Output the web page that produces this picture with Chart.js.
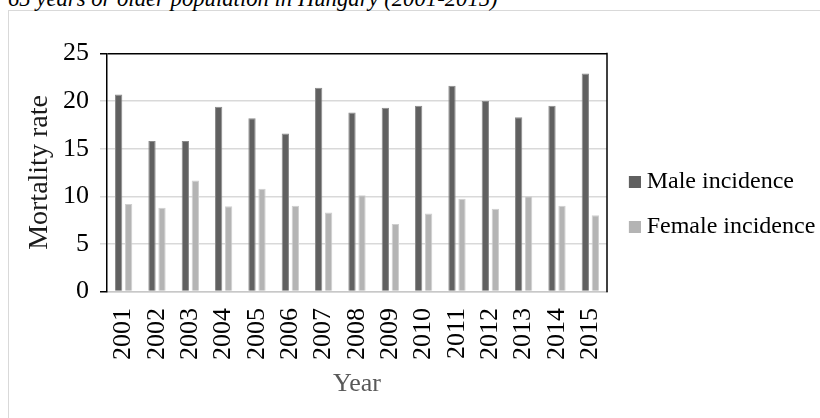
<!DOCTYPE html>
<html>
<head>
<meta charset="utf-8">
<script src="https://cdn.jsdelivr.net/npm/chart.js@4/dist/chart.umd.min.js"></script>
<style>
  html, body { margin: 0; padding: 0; background: #ffffff; width: 820px; height: 418px; overflow: hidden; position: relative; }
  #frame { position: absolute; left: 8px; top: 10px; width: 900px; height: 500px;
           border: 1.5px solid #d9d9d9; box-sizing: border-box; }
  #title { position: absolute; left: 8px; top: -13.5px; margin: 0; white-space: nowrap;
           font: italic 22.7px/23px "Liberation Serif", serif; color: #000000; }
  #chart { position: absolute; left: 0; top: 0; width: 820px; height: 418px; }
</style>
</head>
<body>
<div id="frame"></div>
<p id="title"></p>
<canvas id="chart" width="820" height="418"></canvas>
<script>
// Mortality rate per year, 65 years or older, Hungary
const years = ['2001','2002','2003','2004','2005','2006','2007','2008','2009','2010','2011','2012','2013','2014','2015'];
const maleIncidence   = [20.7, 15.8, 15.8, 19.4, 18.2, 16.6, 21.4, 18.8, 19.3, 19.5, 21.6, 20.0, 18.3, 19.5, 22.9];
const femaleIncidence = [9.2, 8.8, 11.65, 8.95, 10.8, 9.0, 8.3, 10.1, 7.1, 8.2, 9.75, 8.7, 10.0, 9.0, 8.0];
const seriesNames = ['Male incidence', 'Female incidence'];
const seriesColors = ['#606060', '#b4b4b4'];
const seriesEdges = ['#8a8a8a', '#cfcfcf'];
const yMin = 0, yMax = 25, yStep = 5;
const chartTitle = '65 years or older population in Hungary (2001-2015)';
const xTitle = 'Year';
const yTitle = 'Mortality rate';

document.getElementById('title').textContent = chartTitle;

const serif = 'Liberation Serif';
Chart.defaults.font.family = serif;

// legend swatches: 12px square on the right of a transparent strip
function swatch(color) {
  const c = document.createElement('canvas');
  c.width = 19; c.height = 12;
  const g = c.getContext('2d');
  g.fillStyle = color;
  g.fillRect(7, 0, 12, 12);
  return c;
}
const swatches = seriesColors.map(swatch);

// closes the plot box on the right-hand side
const plotFrame = {
  id: 'plotFrame',
  afterDatasetsDraw(chart) {
    const { ctx, chartArea: a } = chart;
    ctx.save();
    ctx.strokeStyle = '#000000';
    ctx.lineWidth = 1.5;
    ctx.beginPath();
    ctx.moveTo(a.right, a.top - 0.75);
    ctx.lineTo(a.right, a.bottom + 0.75);
    ctx.stroke();
    ctx.restore();
  }
};

new Chart(document.getElementById('chart'), {
  type: 'bar',
  data: {
    labels: years,
    datasets: [
      { label: seriesNames[0], data: maleIncidence, backgroundColor: seriesColors[0],
        borderColor: seriesEdges[0], borderWidth: 1, barPercentage: 0.73, categoryPercentage: 0.6 },
      { label: seriesNames[1], data: femaleIncidence, backgroundColor: seriesColors[1],
        borderColor: seriesEdges[1], borderWidth: 1, barPercentage: 0.73, categoryPercentage: 0.6 }
    ]
  },
  plugins: [plotFrame],
  options: {
    responsive: false,
    animation: false,
    devicePixelRatio: 1,
    layout: { padding: { left: -32, top: 0, right: 0, bottom: 9 } },
    plugins: {
      tooltip: { enabled: false },
      title: { display: false },
      legend: {
        position: 'right',
        align: 'center',
        labels: {
          color: '#000000',
          font: { family: serif, size: 24 },
          usePointStyle: true,
          pointStyleWidth: 6.7,
          padding: 21,
          generateLabels(chart) {
            const items = Chart.defaults.plugins.legend.labels.generateLabels(chart);
            items.forEach((it, i) => { it.pointStyle = swatches[i]; });
            return items;
          }
        }
      }
    },
    scales: {
      x: {
        grid: { display: false, drawTicks: false },
        border: { display: true, color: '#c8c8c8', width: 1.5 },
        ticks: { color: '#000000', font: { size: 26 }, minRotation: 90, maxRotation: 90, padding: 16.5, autoSkip: false },
        title: { display: true, text: xTitle, color: '#595959', font: { size: 26 }, padding: { top: -8.1, bottom: 9.4 } }
      },
      // empty top band above the plot
      x2: {
        position: 'top',
        display: true,
        grid: { display: false, drawTicks: true, tickLength: 53.5 },
        ticks: { display: false },
        border: { display: false }
      },
      y: {
        min: yMin,
        max: yMax,
        ticks: { stepSize: yStep, color: '#000000', font: { size: 26 }, padding: 11 },
        grid: {
          color: ctx => (ctx.tick && ctx.tick.value === yMax) ? '#000000' : '#d9d9d9',
          tickColor: ctx => (ctx.tick && (ctx.tick.value === yMax || ctx.tick.value === yMin)) ? '#000000' : '#d9d9d9',
          lineWidth: 1.5,
          drawTicks: true,
          tickLength: 7
        },
        border: { display: true, color: '#000000', width: 1.5 },
        title: { display: true, text: yTitle, color: '#1a1a1a', font: { size: 28 }, padding: { top: 55.2, bottom: -4.8 } }
      }
    }
  }
});
</script>
</body>
</html>
